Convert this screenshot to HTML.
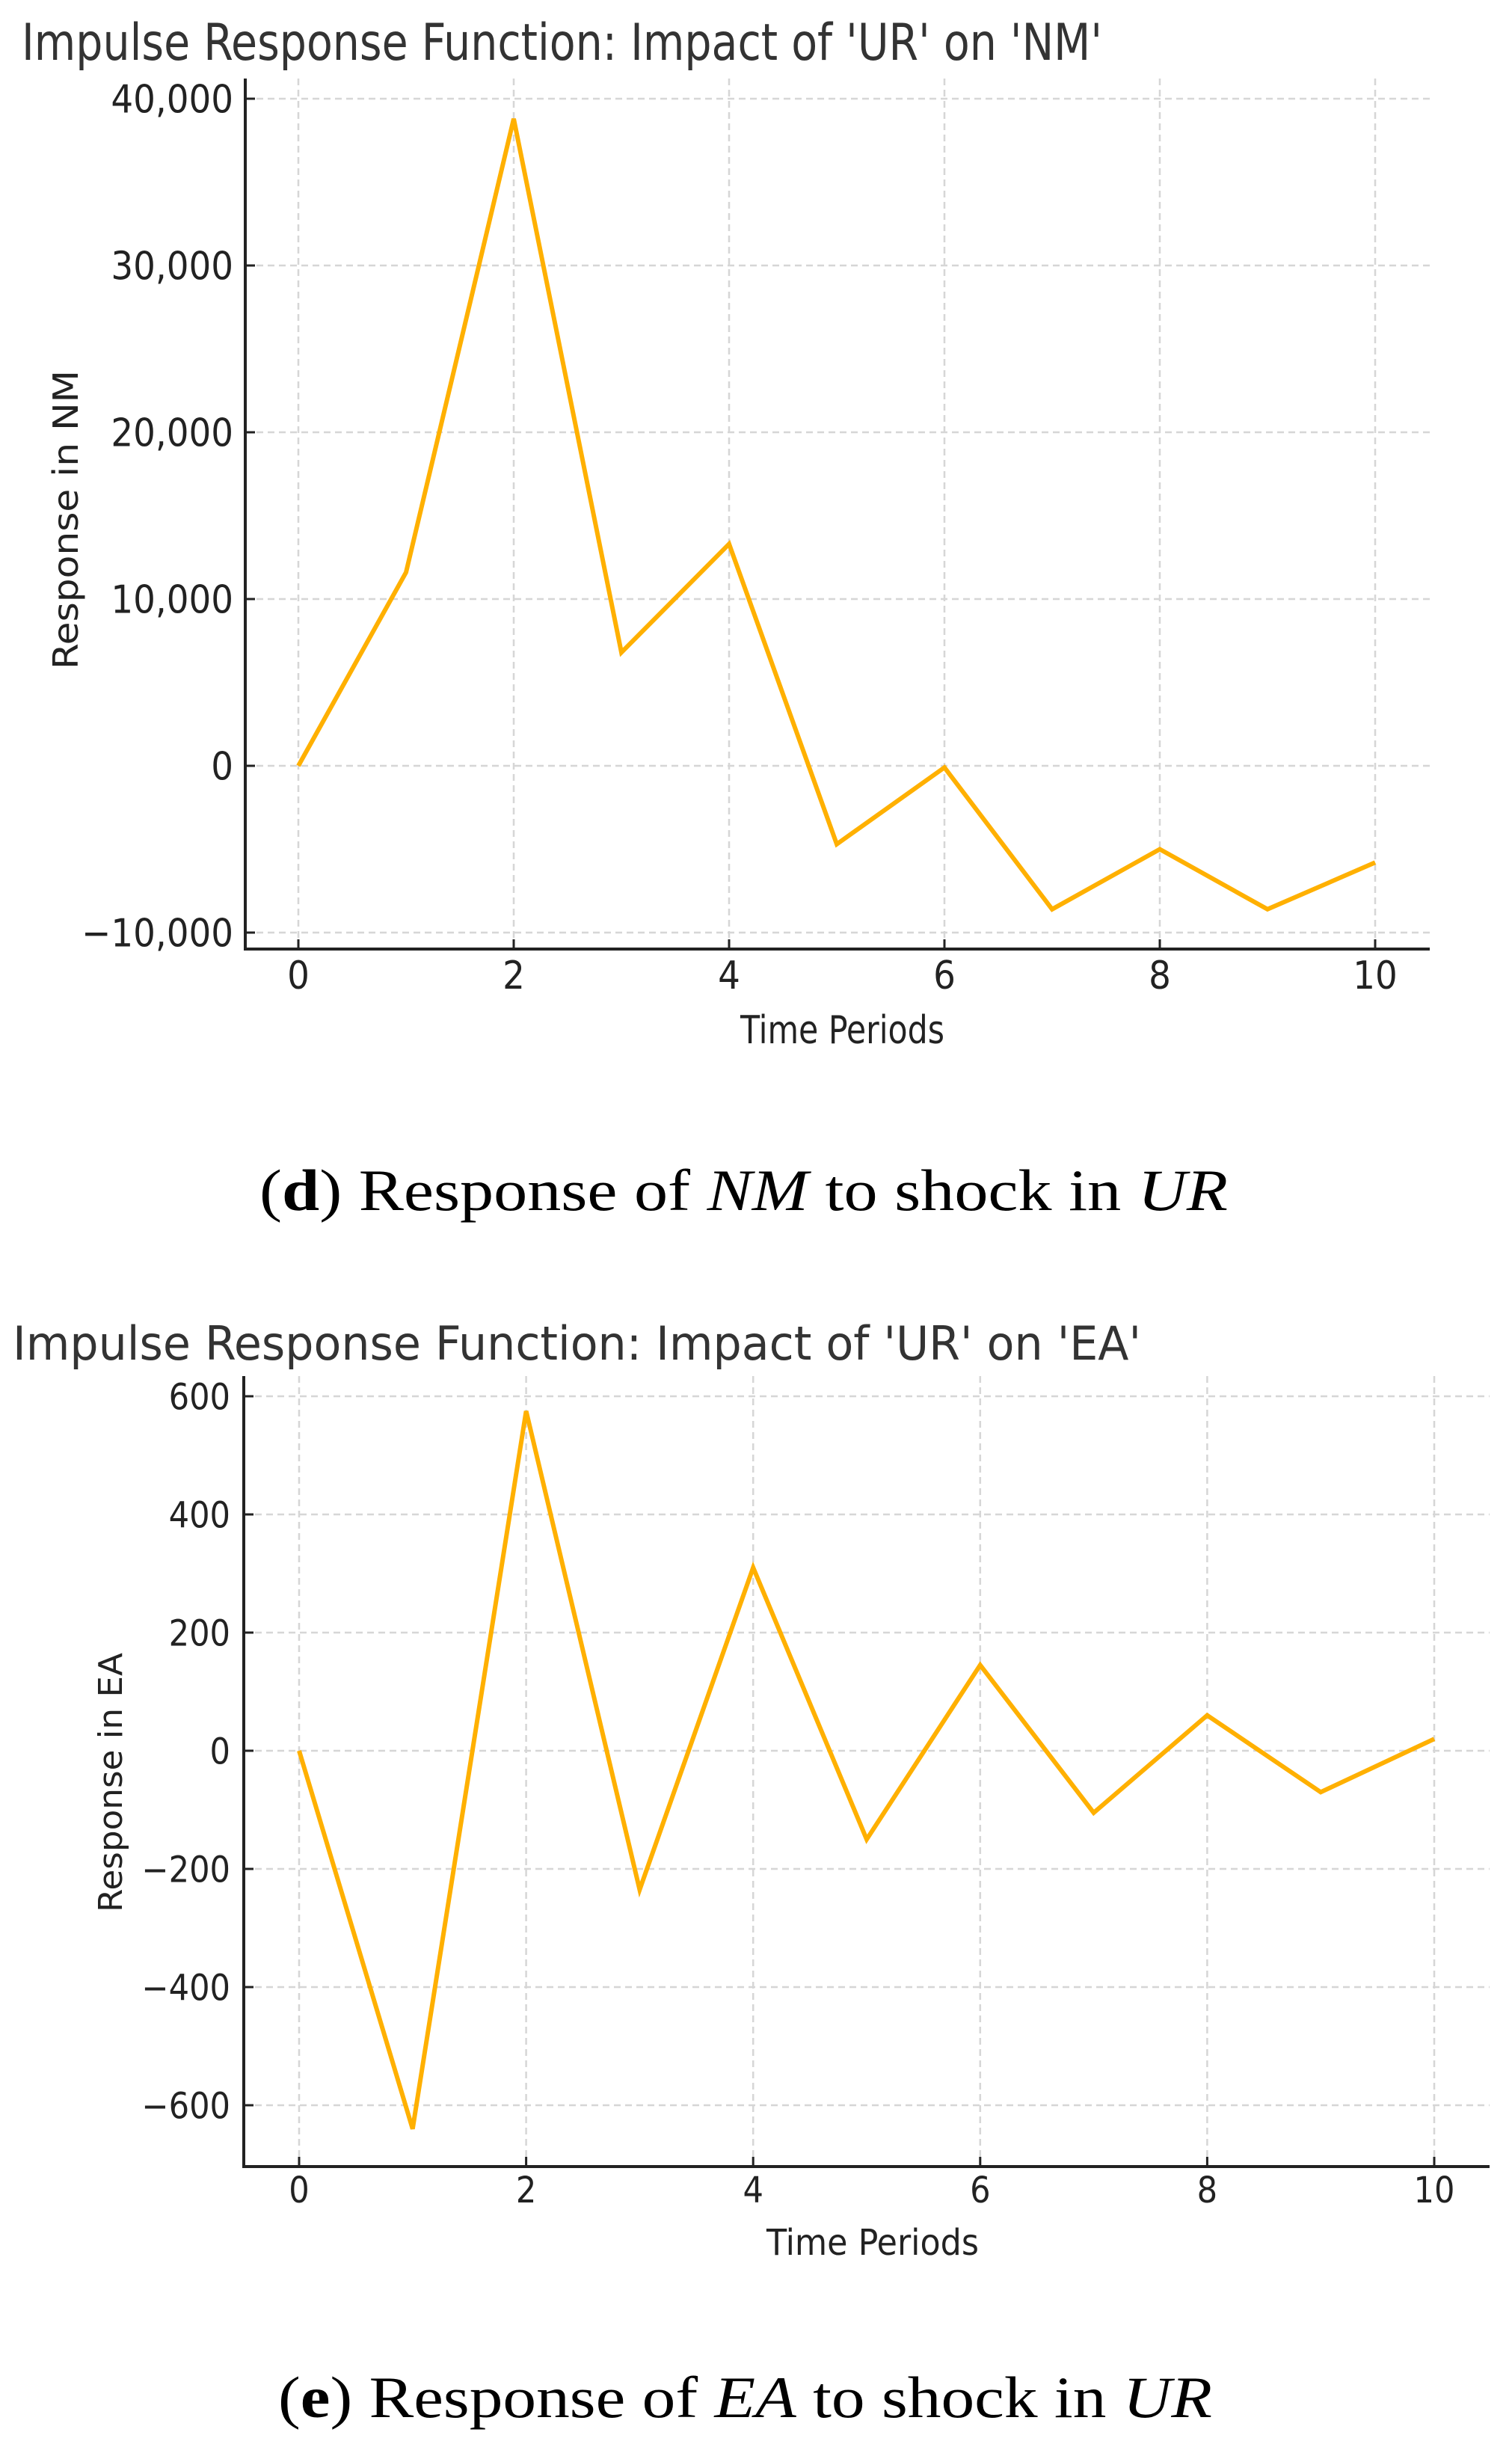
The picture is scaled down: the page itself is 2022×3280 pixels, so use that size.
<!DOCTYPE html>
<html><head><meta charset="utf-8"><style>
html,body{margin:0;padding:0;background:#fff;}
svg{display:block;}
</style></head><body>
<svg id="fig" width="2022" height="3280" viewBox="0 0 2022 3280" xmlns="http://www.w3.org/2000/svg">
<g id="chartD"></g>
<g id="chartE"></g>
<text x="347" y="1618" font-family="Liberation Serif, serif" font-size="78" fill="#000" textLength="1295" lengthAdjust="spacingAndGlyphs">(<tspan font-weight="bold">d</tspan>) Response of <tspan font-style="italic">NM</tspan> to shock in <tspan font-style="italic">UR</tspan></text>
<text x="372" y="3232" font-family="Liberation Serif, serif" font-size="78" fill="#000" textLength="1249" lengthAdjust="spacingAndGlyphs">(<tspan font-weight="bold">e</tspan>) Response of <tspan font-style="italic">EA</tspan> to shock in <tspan font-style="italic">UR</tspan></text>
</svg>
<script>
const periods = [0,1,2,3,4,5,6,7,8,9,10];
const nmValues = [0, 11600, 38800, 6800, 13300, -4700, -100, -8600, -5000, -8600, -5800];
const nmTicks = [-10000, 0, 10000, 20000, 30000, 40000];
const nmTickLabels = ["\u221210,000","0","10,000","20,000","30,000","40,000"];
const eaValues = [0, -640, 575, -235, 310, -150, 145, -105, 60, -70, 20];
const eaTicks = [-600, -400, -200, 0, 200, 400, 600];
const eaTickLabels = ["\u2212600","\u2212400","\u2212200","0","200","400","600"];
const xTicks = [0,2,4,6,8,10];

const NS = "http://www.w3.org/2000/svg";
function mk(parent, tag, attrs, text) {
  const e = document.createElementNS(NS, tag);
  for (const k in attrs) e.setAttribute(k, attrs[k]);
  if (text !== undefined) e.textContent = text;
  parent.appendChild(e);
  return e;
}

function drawChart(g, cfg, values, yTicks, yLabels) {
  const xs = v => cfg.x0 + (v - 0) * (cfg.x10 - cfg.x0) / 10;
  const ys = v => cfg.yA + (v - cfg.vA) * (cfg.yB - cfg.yA) / (cfg.vB - cfg.vA);
  const font = '"DejaVu Sans Condensed","DejaVu Sans","Liberation Sans",sans-serif';
  const t = mk(g, "text", {x: cfg.titleX, y: cfg.titleY, "font-family": font, "font-size": cfg.titleSize, fill: "#333", textLength: cfg.titleLen, lengthAdjust: "spacingAndGlyphs"}, cfg.title);
  
  
  xTicks.forEach(v => {
    const l = mk(g, "line", {x1: xs(v), x2: xs(v), y1: cfg.top, y2: cfg.axisY, stroke: "#d6d6d6", "stroke-width": 2.5, "stroke-dasharray": "9 6"});
    
    
  });
  yTicks.forEach(v => {
    const l = mk(g, "line", {x1: cfg.axisX, x2: cfg.right, y1: ys(v), y2: ys(v), stroke: "#d6d6d6", "stroke-width": 2.5, "stroke-dasharray": "9 6"});
    
    
  });
  const pts = values.map((v, i) => xs(periods[i]).toFixed(1) + "," + ys(v).toFixed(1)).join(" ");
  const pl = mk(g, "polyline", {points: pts, fill: "none", stroke: "#FFB000", "stroke-width": 6, "stroke-linejoin": "miter"});
  
  
  const ax = mk(g, "line", {x1: cfg.axisX, x2: cfg.axisX, y1: cfg.top, y2: cfg.axisY + 2, stroke: "#222", "stroke-width": 4});
  
  
  const bx = mk(g, "line", {x1: cfg.axisX - 2, x2: cfg.right, y1: cfg.axisY, y2: cfg.axisY, stroke: "#222", "stroke-width": 4});
  
  
  yTicks.forEach((v, i) => {
    const tk = mk(g, "line", {x1: cfg.axisX, x2: cfg.axisX + 13, y1: ys(v), y2: ys(v), stroke: "#222", "stroke-width": 3});
    
    
    const tl = mk(g, "text", {x: cfg.yLabX, y: ys(v) + cfg.tickSize * 0.36, "text-anchor": "end", "font-family": font, "font-size": cfg.tickSize, fill: "#222"}, yLabels[i]);
    
    
  });
  xTicks.forEach(v => {
    const tk = mk(g, "line", {x1: xs(v), x2: xs(v), y1: cfg.axisY, y2: cfg.axisY - 13, stroke: "#222", "stroke-width": 3});
    
    
    const tl = mk(g, "text", {x: xs(v), y: cfg.xLabY, "text-anchor": "middle", "font-family": font, "font-size": cfg.tickSize, fill: "#222"}, String(v));
    
    
  });
  const xt = mk(g, "text", {x: cfg.xTitleX, y: cfg.xTitleY, "font-family": font, "font-size": cfg.tickSize, fill: "#222", textLength: cfg.xTitleLen, lengthAdjust: "spacingAndGlyphs"}, "Time Periods");
  
  
  const yt = mk(g, "text", {x: 0, y: 0, transform: "translate(" + cfg.yTitleX + "," + cfg.yTitleY + ") rotate(-90)", "font-family": '"DejaVu Sans",sans-serif', "font-size": cfg.yTitleSize, fill: "#222", textLength: cfg.yTitleLen, lengthAdjust: "spacingAndGlyphs"}, cfg.yTitle);
  
  
}

drawChart(document.getElementById("chartD"), {
  x0: 399, x10: 1839, yA: 132, vA: 40000, yB: 1024, vB: 0,
  top: 105, axisY: 1269, axisX: 328, right: 1912,
  title: "Impulse Response Function: Impact of 'UR' on 'NM'", titleX: 29, titleY: 80, titleSize: 68, titleLen: 1445,
  tickSize: 52, yLabX: 312, xLabY: 1322,
  xTitleX: 990, xTitleY: 1395, xTitleLen: 273,
  yTitle: "Response in NM", yTitleX: 104, yTitleY: 895, yTitleLen: 400, yTitleSize: 46
}, nmValues, nmTicks, nmTickLabels);

drawChart(document.getElementById("chartE"), {
  x0: 400, x10: 1918, yA: 1867, vA: 600, yB: 2025, vB: 400,
  top: 1840, axisY: 2897, axisX: 326, right: 1992,
  title: "Impulse Response Function: Impact of 'UR' on 'EA'", titleX: 17, titleY: 1818, titleSize: 62, titleLen: 1509,
  tickSize: 48, yLabX: 308, xLabY: 2945,
  xTitleX: 1025, xTitleY: 3015, xTitleLen: 284,
  yTitle: "Response in EA", yTitleX: 163, yTitleY: 2557, yTitleLen: 347, yTitleSize: 44
}, eaValues, eaTicks, eaTickLabels);
</script>
</body></html>
